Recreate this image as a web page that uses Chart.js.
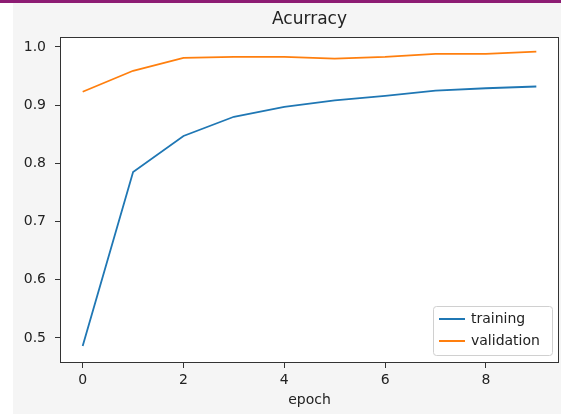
<!DOCTYPE html>
<html>
<head>
<meta charset="utf-8">
<script src="https://cdn.jsdelivr.net/npm/chart.js@4"></script>
<style>
    html, body { margin: 0; padding: 0; }
    body { width: 561px; height: 414px; background: #f5f5f5; position: relative; overflow: hidden; }
    #topband { position: absolute; left: 0; top: 0; width: 561px; height: 3px; background: #8d1c73; }
    #leftstrip { position: absolute; left: 0; top: 3px; width: 13px; height: 411px; background: #ffffff; }
    #wrap { position: absolute; left: 0; top: 0; width: 561px; height: 414px; }
</style>
</head>
<body>
<div id="topband"></div>
<div id="leftstrip"></div>
<div id="wrap"><canvas id="chart" width="561" height="414"></canvas></div>
<script>
// Data
const epochs = [0, 1, 2, 3, 4, 5, 6, 7, 8, 9];
const training = [0.486, 0.785, 0.847, 0.880, 0.897, 0.908, 0.916, 0.925, 0.929, 0.932];
const validation = [0.923, 0.959, 0.981, 0.983, 0.983, 0.980, 0.983, 0.988, 0.988, 0.992];
const seriesNames = ['training', 'validation'];
const titleText = 'Acurracy';
const xTitle = 'epoch';

const TEXT = '#222222';
const FONT = 'DejaVu Sans';

function points(values) {
    return epochs.map((e, i) => ({ x: e, y: values[i] }));
}

// Plot area background and frame
const framePlugin = {
    id: 'frame',
    beforeDraw(chart) {
        const { ctx, chartArea: a } = chart;
        ctx.save();
        ctx.fillStyle = '#ffffff';
        ctx.fillRect(a.left, a.top, a.right - a.left, a.bottom - a.top);
        ctx.restore();
    },
    afterDraw(chart) {
        const { ctx, chartArea: a } = chart;
        ctx.save();
        ctx.strokeStyle = '#333333';
        ctx.lineWidth = 1;
        ctx.strokeRect(a.left + 0.5, a.top + 0.5, a.right - a.left - 1, a.bottom - a.top - 1);
        ctx.restore();
    }
};

// Legend drawn inside the plot, lower right
const innerLegend = {
    id: 'innerLegend',
    afterDraw(chart) {
        const { ctx, chartArea: a } = chart;
        const sets = chart.data.datasets;
        const rowH = 22;
        const w = 119, h = sets.length * rowH + 5;
        const x = a.right - 7 - w, y = a.bottom - 8 - h;
        ctx.save();
        ctx.fillStyle = 'rgba(255,255,255,0.8)';
        ctx.strokeStyle = '#d0d0d0';
        ctx.lineWidth = 1;
        ctx.beginPath();
        ctx.roundRect(x + 0.5, y + 0.5, w, h, 3);
        ctx.fill();
        ctx.stroke();
        ctx.font = `14px "${FONT}"`;
        ctx.textBaseline = 'middle';
        sets.forEach((ds, i) => {
            const cy = y + 13 + i * rowH;
            ctx.strokeStyle = ds.borderColor;
            ctx.lineWidth = 2;
            ctx.beginPath();
            ctx.moveTo(x + 6, cy);
            ctx.lineTo(x + 32, cy);
            ctx.stroke();
            ctx.fillStyle = TEXT;
            ctx.fillText(ds.label, x + 38, cy);
        });
        ctx.restore();
    }
};

function initChart() {
    const ctx = document.getElementById('chart').getContext('2d');
    new Chart(ctx, {
        type: 'line',
        data: {
            datasets: [{
                label: seriesNames[0],
                data: points(training),
                borderColor: '#1f77b4',
                borderWidth: 1.8,
                pointRadius: 0,
                tension: 0,
                fill: false
            }, {
                label: seriesNames[1],
                data: points(validation),
                borderColor: '#ff7f0e',
                borderWidth: 1.8,
                pointRadius: 0,
                tension: 0,
                fill: false
            }]
        },
        options: {
            responsive: false,
            animation: false,
            layout: { padding: { left: 0, right: 2, top: 0, bottom: 0 } },
            plugins: {
                legend: { display: false },
                tooltip: { enabled: false },
                title: {
                    display: true,
                    text: titleText,
                    fullSize: false,
                    color: TEXT,
                    font: { family: FONT, size: 17, weight: 'normal', lineHeight: 1.2 },
                    padding: { top: 9, bottom: 7.6 }
                }
            },
            scales: {
                x: {
                    type: 'linear',
                    min: -0.45,
                    max: 9.45,
                    afterFit: s => { s.height = 51; },
                    border: { display: false },
                    grid: { drawOnChartArea: false, drawTicks: true, tickLength: 5, color: '#333333' },
                    ticks: {
                        stepSize: 2,
                        includeBounds: false,
                        maxRotation: 0,
                        padding: 4,
                        color: TEXT,
                        font: { family: FONT, size: 14 }
                    },
                    title: {
                        display: true,
                        text: xTitle,
                        color: TEXT,
                        font: { family: FONT, size: 14 },
                        padding: { top: 0, bottom: 5 }
                    }
                },
                y: {
                    min: 0.457,
                    max: 1.017,
                    afterFit: s => { s.width = 60; },
                    border: { display: false },
                    grid: { drawOnChartArea: false, drawTicks: true, tickLength: 5, color: '#333333' },
                    ticks: {
                        stepSize: 0.1,
                        includeBounds: false,
                        padding: 9,
                        color: TEXT,
                        font: { family: FONT, size: 14 },
                        callback: v => Number(v).toFixed(1)
                    }
                }
            }
        },
        plugins: [framePlugin, innerLegend]
    });
}

document.addEventListener('DOMContentLoaded', initChart);
</script>
</body>
</html>
